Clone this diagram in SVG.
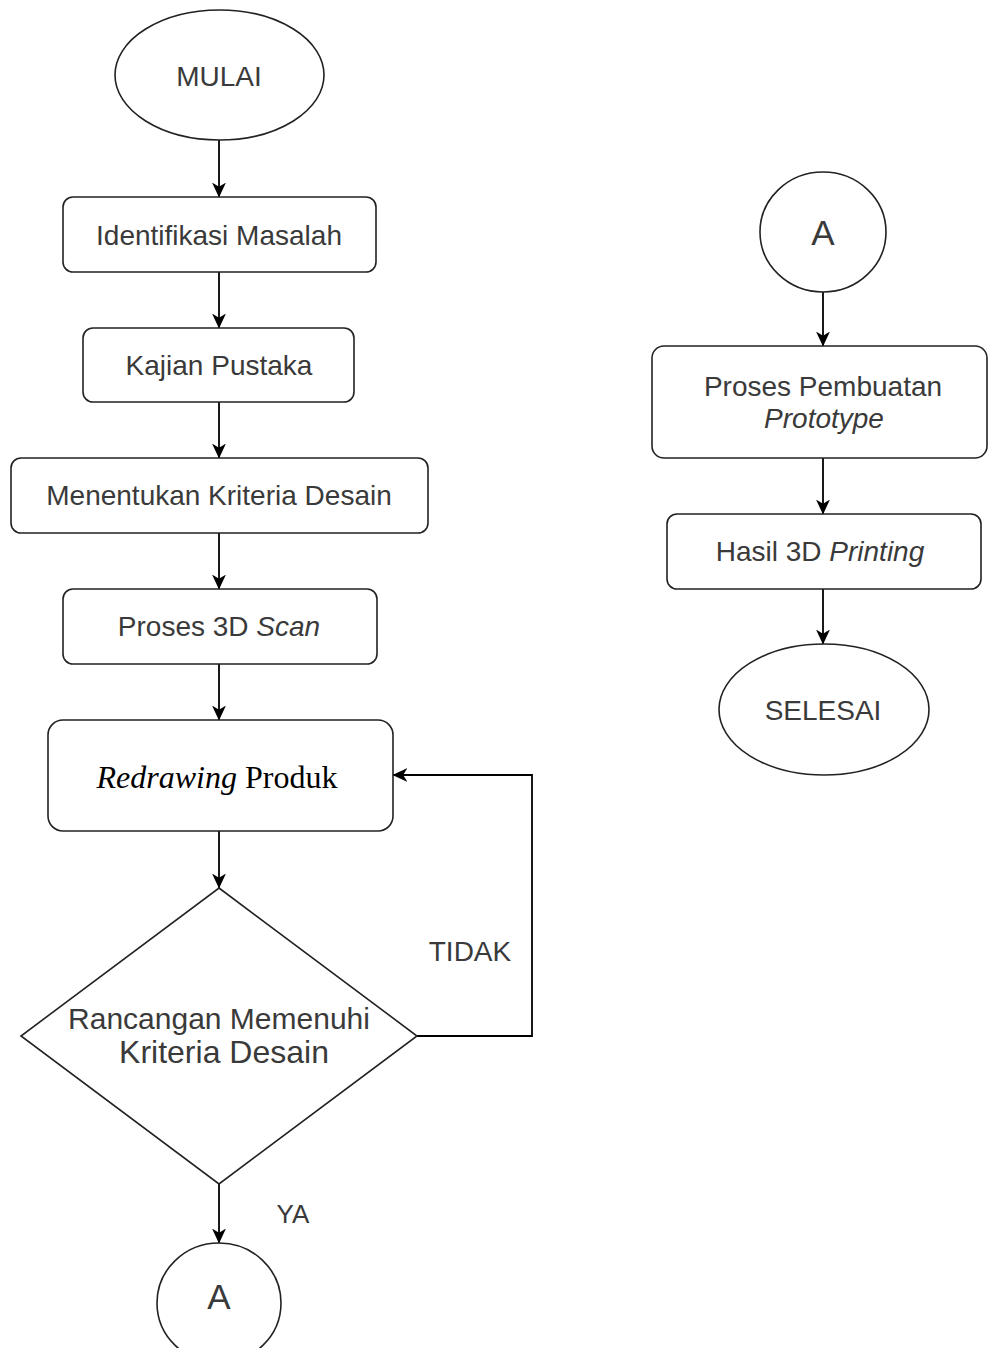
<svg xmlns="http://www.w3.org/2000/svg" width="989" height="1348" viewBox="0 0 989 1348">
<defs>
<marker id="arr" viewBox="0 0 14 14" refX="13.5" refY="7" markerWidth="15" markerHeight="15" orient="auto" markerUnits="userSpaceOnUse">
<path d="M0,0.5 L14,7 L0,13.5 L4,7 z" fill="#000"/>
</marker>
<style>
.s{fill:#fff;stroke:#222;stroke-width:1.6}
.t{font-family:"Liberation Sans",Arial,sans-serif;font-size:28px;fill:#3a3a3a;text-anchor:middle}
.c{fill:none;stroke:#000;stroke-width:1.8;marker-end:url(#arr)}
</style>
</defs>
<rect width="989" height="1348" fill="#fff"/>
<g id="connectors">
<line class="c" x1="219" y1="140" x2="219" y2="197"/>
<line class="c" x1="219" y1="272" x2="219" y2="328"/>
<line class="c" x1="219" y1="402" x2="219" y2="458"/>
<line class="c" x1="219" y1="533" x2="219" y2="589"/>
<line class="c" x1="219" y1="664" x2="219" y2="720"/>
<line class="c" x1="219" y1="831" x2="219" y2="888"/>
<line class="c" x1="219" y1="1184" x2="219" y2="1243"/>
<polyline class="c" points="417,1036 532,1036 532,775 393,775"/>
<line class="c" x1="823" y1="292" x2="823" y2="346"/>
<line class="c" x1="823" y1="458" x2="823" y2="514"/>
<line class="c" x1="823" y1="589" x2="823" y2="644"/>
<text class="t" x="470" y="961">TIDAK</text>
<text class="t" x="293" y="1223" style="font-size:26px">YA</text>
</g>
<g id="mulai">
<ellipse class="s" cx="219.5" cy="75" rx="104.5" ry="65"/>
<text class="t" x="219" y="86">MULAI</text>
</g>
<g id="identifikasi">
<rect class="s" x="63" y="197" width="313" height="75" rx="10"/>
<text class="t" x="219" y="245">Identifikasi Masalah</text>
</g>
<g id="kajian">
<rect class="s" x="83" y="328" width="271" height="74" rx="10"/>
<text class="t" x="219" y="375">Kajian Pustaka</text>
</g>
<g id="kriteria">
<rect class="s" x="11" y="458" width="417" height="75" rx="10"/>
<text class="t" x="219" y="505">Menentukan Kriteria Desain</text>
</g>
<g id="scan">
<rect class="s" x="63" y="589" width="314" height="75" rx="10"/>
<text class="t" x="219" y="636">Proses 3D <tspan font-style="italic">Scan</tspan></text>
</g>
<g id="redrawing">
<rect class="s" x="48" y="720" width="345" height="111" rx="15"/>
<text x="217" y="788" style="font-family:'Liberation Serif','Times New Roman',serif;font-size:32px;fill:#000;text-anchor:middle"><tspan font-style="italic">Redrawing</tspan> Produk</text>
</g>
<g id="keputusan">
<polygon class="s" points="219,888 417,1036 219,1184 21,1036"/>
<text class="t" x="219" y="1029" style="font-size:30px">Rancangan Memenuhi</text>
<text class="t" x="224" y="1063" style="font-size:32px">Kriteria Desain</text>
</g>
<g id="konektorA1">
<ellipse class="s" cx="219" cy="1303" rx="62" ry="60"/>
<text class="t" x="219" y="1309" style="font-size:35px">A</text>
</g>
<g id="konektorA2">
<ellipse class="s" cx="823" cy="232" rx="63" ry="60"/>
<text class="t" x="823" y="245" style="font-size:35px">A</text>
</g>
<g id="prototype">
<rect class="s" x="652" y="346" width="335" height="112" rx="12"/>
<text class="t" x="823" y="396">Proses Pembuatan</text>
<text class="t" x="824" y="428" font-style="italic">Prototype</text>
</g>
<g id="printing">
<rect class="s" x="667" y="514" width="314" height="75" rx="10"/>
<text class="t" x="820" y="561">Hasil 3D <tspan font-style="italic">Printing</tspan></text>
</g>
<g id="selesai">
<ellipse class="s" cx="824" cy="709.5" rx="105" ry="65.5"/>
<text class="t" x="823" y="720">SELESAI</text>
</g>
</svg>
